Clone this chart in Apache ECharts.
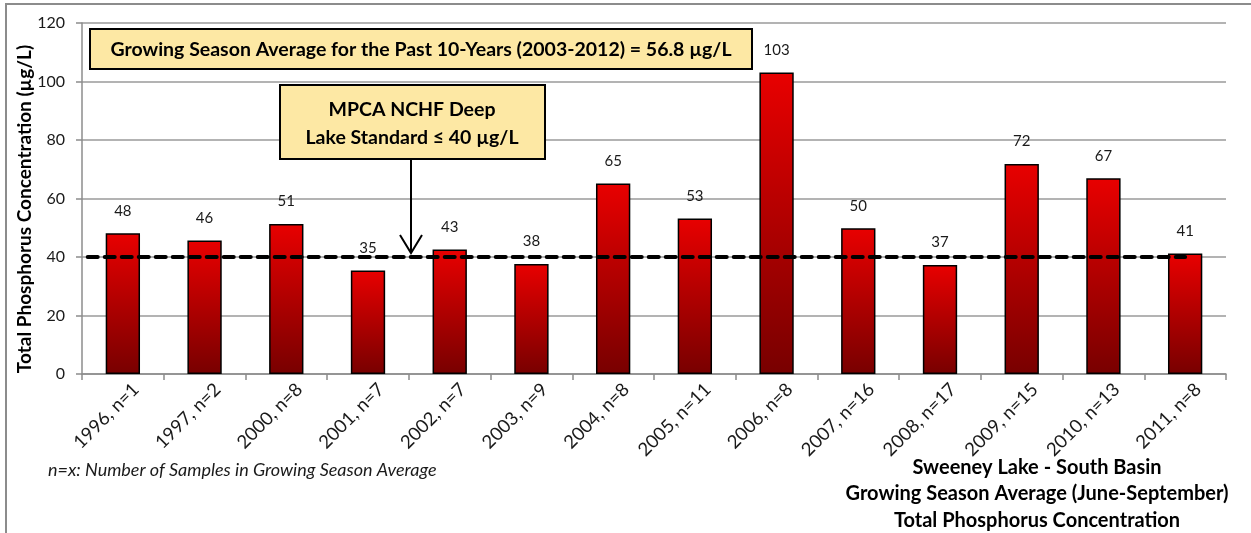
<!DOCTYPE html>
<html>
<head>
<meta charset="utf-8">
<script src="https://cdn.jsdelivr.net/npm/echarts@6/dist/echarts.min.js"></script>
<style>
  html, body { margin: 0; padding: 0; background: #fff; }
  #chart { width: 1251px; height: 533px; }
</style>
</head>
<body>
<div id="chart"></div>
<script>
// category labels (year, number of samples)
const categories = [
  "1996, n=1", "1997, n=2", "2000, n=8", "2001, n=7", "2002, n=7",
  "2003, n=9", "2004, n=8", "2005, n=11", "2006, n=8", "2007, n=16",
  "2008, n=17", "2009, n=15", "2010, n=13", "2011, n=8"
];
// growing season average TP, ug/L
const tpValues = [48.1, 45.6, 51.3, 35.4, 42.6, 37.6, 65.1, 53.2, 103.1, 49.8, 37.3, 71.8, 66.9, 41.2];
// MPCA standard line (x in category units on the hidden value axis)
const standardValue = 40;
const standardSpan = [0.07, 13.5];
const yTicks = { min: 0, max: 120, interval: 20 };

const FONT = "Lato, 'Open Sans', sans-serif";

const chart = echarts.init(document.getElementById("chart"));

chart.setOption({
  backgroundColor: "#fff",
  animation: false,
  grid: { left: 82, right: 25, top: 23, bottom: 159, containLabel: false, outerBoundsMode: "none" },
  xAxis: [
    {
      type: "category",
      data: categories,
      axisLine: { lineStyle: { color: "#8c8c8c", width: 1.5 } },
      axisTick: { show: true, length: 6, lineStyle: { color: "#8c8c8c", width: 1.5 } },
      axisLabel: {
        rotate: 45,
        interval: 0,
        fontFamily: FONT,
        fontSize: 18.5,
        color: "#1a1a1a",
        verticalAlign: "top",
        padding: [0, -9, 0, 0],
        margin: 12
      }
    },
    { type: "value", min: 0, max: categories.length, show: false }
  ],
  yAxis: {
    type: "value",
    min: yTicks.min,
    max: yTicks.max,
    interval: yTicks.interval,
    axisLine: { show: true, lineStyle: { color: "#8c8c8c", width: 1.5 } },
    axisTick: { show: true, length: 6, lineStyle: { color: "#8c8c8c", width: 1.5 } },
    axisLabel: { fontFamily: FONT, fontSize: 16, color: "#1a1a1a", margin: 17 },
    splitLine: { lineStyle: { color: "#9a9a9a", width: 1.5 } }
  },
  series: [
    {
      type: "bar",
      data: tpValues,
      barWidth: "42%",
      itemStyle: {
        color: new echarts.graphic.LinearGradient(0, 0, 0, 1, [
          { offset: 0, color: "#e80000" },
          { offset: 1, color: "#780000" }
        ]),
        borderColor: "#000",
        borderWidth: 1.5
      },
      label: {
        show: true,
        position: "top",
        distance: 15,
        fontFamily: FONT,
        fontSize: 15,
        color: "#1a1a1a",
        formatter: (p) => Math.round(p.value)
      },
      z: 2
    },
    {
      type: "line",
      xAxisIndex: 1,
      data: [[standardSpan[0], standardValue], [standardSpan[1], standardValue]],
      symbol: "none",
      lineStyle: { color: "#000", width: 4, type: [10, 7], cap: "round" },
      z: 3
    }
  ],
  graphic: [
    // outer chart border
    {
      type: "rect",
      shape: { x: 6, y: 4, width: 1300, height: 600 },
      style: { fill: "none", stroke: "#8c8c8c", lineWidth: 2 },
      silent: true
    },
    // y axis title
    {
      type: "text",
      x: 25, y: 209,
      rotation: Math.PI / 2,
      style: {
        text: "Total Phosphorus Concentration (µg/L)",
        fontFamily: FONT, fontSize: 19, fontWeight: "bold", fill: "#000",
        align: "center", verticalAlign: "middle"
      }
    },
    // 10-year average box
    {
      type: "rect",
      shape: { x: 90, y: 29, width: 662, height: 40 },
      style: { fill: "#fde8a4", stroke: "#000", lineWidth: 2 },
      z: 10
    },
    {
      type: "text",
      x: 421, y: 50,
      style: {
        text: "Growing Season Average for the Past 10-Years (2003-2012) = 56.8 µg/L",
        fontFamily: FONT, fontSize: 19.5, fontWeight: "bold", fill: "#000",
        align: "center", verticalAlign: "middle"
      },
      z: 11
    },
    // standard box
    {
      type: "rect",
      shape: { x: 280, y: 85, width: 265, height: 74 },
      style: { fill: "#fde8a4", stroke: "#000", lineWidth: 2 },
      z: 10
    },
    {
      type: "text",
      x: 412, y: 124,
      style: {
        text: "MPCA NCHF Deep\nLake Standard ≤ 40 µg/L",
        fontFamily: FONT, fontSize: 19.5, fontWeight: "bold", fill: "#000",
        align: "center", verticalAlign: "middle", lineHeight: 28
      },
      z: 11
    },
    // arrow
    {
      type: "polyline",
      shape: { points: [[411, 159], [411, 253]] },
      style: { stroke: "#000", lineWidth: 2 },
      z: 10
    },
    {
      type: "polyline",
      shape: { points: [[400, 235], [411, 253], [422, 235]] },
      style: { stroke: "#000", lineWidth: 2, fill: "none" },
      z: 10
    },
    // sample note
    {
      type: "text",
      x: 48, y: 470,
      style: {
        text: "n=x: Number of Samples in Growing Season Average",
        fontFamily: FONT, fontSize: 18, fontStyle: "italic", fill: "#1a1a1a",
        align: "left", verticalAlign: "middle"
      }
    },
    // title block
    {
      type: "text",
      x: 1037, y: 494,
      style: {
        text: "Sweeney Lake - South Basin\nGrowing Season Average (June-September)\nTotal Phosphorus Concentration",
        fontFamily: FONT, fontSize: 20, fontWeight: "bold", fill: "#000",
        align: "center", verticalAlign: "middle", lineHeight: 26.5
      }
    }
  ]
});
</script>
</body>
</html>
